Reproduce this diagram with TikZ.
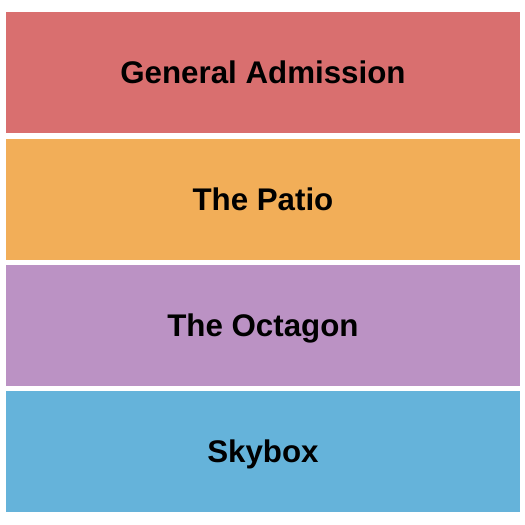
\documentclass[tikz,border=0pt]{standalone}
\usepackage{fontspec}
\setmainfont{Liberation Sans}
\definecolor{gared}{RGB}{217,111,111}
\definecolor{patio}{RGB}{242,174,88}
\definecolor{octa}{RGB}{187,146,196}
\definecolor{sky}{RGB}{101,179,218}
\begin{document}
\begin{tikzpicture}[x=1pt,y=-1pt,
  zone/.style={draw=none,minimum width=513.5pt,minimum height=121pt,inner sep=0pt,anchor=north west,
    text height=22.4pt,text depth=0pt,
    font=\fontsize{31.3}{33}\selectfont\bfseries,text=black}]
\useasboundingbox (0,0) rectangle (525,525);
\fill[white] (0,0) rectangle (525,525);
\node[zone,fill=gared] (ga) at (6,12) {General Admission};
\node[zone,fill=patio] (patio) at (6,138.3) {The Patio};
\node[zone,fill=octa] (octagon) at (6,264.6) {The Octagon};
\node[zone,fill=sky] (skybox) at (6,391) {Skybox};
\end{tikzpicture}
\end{document}
